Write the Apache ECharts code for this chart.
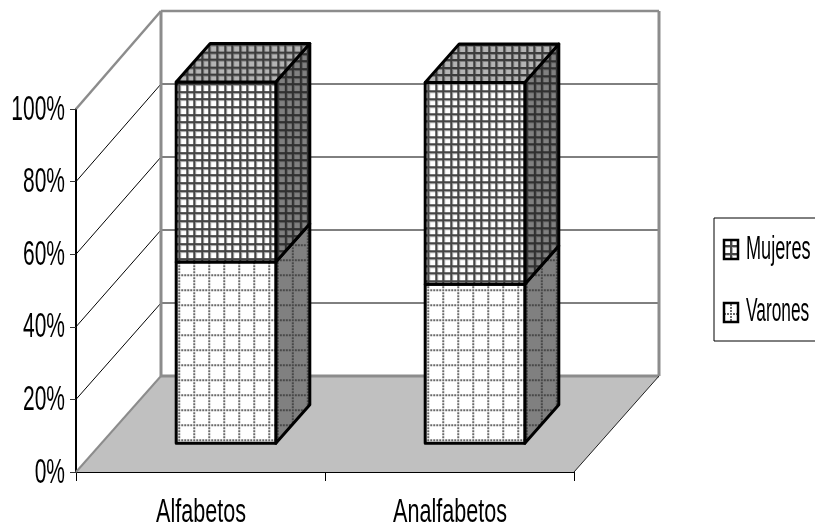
<!DOCTYPE html>
<html>
<head>
<meta charset="utf-8">
<script src="https://cdn.jsdelivr.net/npm/echarts@6/dist/echarts.min.js"></script>
<style>
    html, body { margin: 0; padding: 0; background: #fff; }
    #chart { width: 815px; height: 526px; }
</style>
</head>
<body>
<div id="chart"></div>
<script>
const categories = ['Alfabetos', 'Analfabetos'];
const seriesNames = ['Varones', 'Mujeres'];
const varones = [49.9, 43.8];
const mujeres = [49.6, 55.6];
const yTicks = [0, 20, 40, 60, 80, 100];
const yTickLabels = ['0%', '20%', '40%', '60%', '80%', '100%'];

// how far the back wall sits from the axes, in pixels
const DEPTH_X = 85;
const DEPTH_Y = 96;
// the back wall's scale runs a little taller than the front axis
const BACK_SCALE = 1.0055;
const FONT = '"Liberation Sans", Arial, sans-serif';

// tiled fills, built once
function makeTile(size, draw) {
    const c = document.createElement('canvas');
    c.width = size;
    c.height = size;
    draw(c.getContext('2d'));
    return c;
}

function gridTile(bg, line, soft) {
    return makeTile(38, ctx => {
        ctx.fillStyle = bg;
        ctx.fillRect(0, 0, 38, 38);
        ctx.fillStyle = soft;
        for (let i = 0; i < 5; i++) {
            const p = Math.round(i * 7.6);
            ctx.fillRect(p + 2, 0, 1, 38);
            ctx.fillRect(0, p + 2, 38, 1);
        }
        ctx.fillStyle = line;
        for (let i = 0; i < 5; i++) {
            const p = Math.round(i * 7.6);
            ctx.fillRect(p, 0, 2, 38);
            ctx.fillRect(0, p, 38, 2);
        }
    });
}

function dotTile(bg, dot) {
    return makeTile(75, ctx => {
        ctx.fillStyle = bg;
        ctx.fillRect(0, 0, 75, 75);
        ctx.fillStyle = dot;
        for (let i = 0; i < 5; i++) {
            const p = i * 15;
            for (let k = 0; k < 75; k += 3) {
                ctx.fillRect(p, k, 2, 2);
                ctx.fillRect(k, p, 2, 2);
            }
        }
    });
}

const tiles = {
    Mujeres: {
        front: gridTile('#ffffff', '#454545', '#b4b4b4'),
        side: gridTile('#808080', '#303030', '#606060'),
        top: gridTile('#b4b4b4', '#3c3c3c', '#808080')
    },
    Varones: {
        front: dotTile('#ffffff', '#6a6a6a'),
        side: dotTile('#808080', '#484848')
    }
};

function poly(points, fill, stroke, lineWidth) {
    return {
        type: 'polygon',
        shape: { points },
        style: { fill, stroke: stroke || 'none', lineWidth: lineWidth || 0, lineJoin: 'round' }
    };
}

function line(x1, y1, x2, y2, stroke, lineWidth) {
    return {
        type: 'line',
        shape: { x1, y1, x2, y2 },
        style: { stroke, lineWidth }
    };
}

// narrow text: the reference labels are squeezed horizontally
function label(text, x, y, size, scaleX, align) {
    return {
        type: 'text',
        x,
        y,
        scaleX,
        style: {
            text,
            x: 0,
            y: 0,
            fill: '#000',
            font: `${size}px ${FONT}`,
            align,
            verticalAlign: 'middle'
        }
    };
}

function renderWalls(params, api) {
    const grid = params.coordSys;
    const left = grid.x;
    const right = grid.x + grid.width;
    const y0 = api.coord([0, 0])[1];
    const backY = t => y0 - DEPTH_Y - (y0 - api.coord([0, t])[1]) * BACK_SCALE;
    const grey = '#8c8c8c';
    const children = [
        poly([[left, y0], [left + DEPTH_X, y0 - DEPTH_Y], [right + DEPTH_X, y0 - DEPTH_Y], [right, y0]], '#c0c0c0')
    ];

    yTicks.forEach((t, i) => {
        const y = api.coord([0, t])[1];
        const last = i === yTicks.length - 1;
        if (i > 0) {
            children.push(line(left, y, left + DEPTH_X, backY(t), last ? grey : '#000', last ? 2.5 : 1));
            children.push(line(left + DEPTH_X, backY(t), right + DEPTH_X, backY(t), last ? grey : '#000', last ? 2.5 : 1));
        }
    });

    children.push(line(left + DEPTH_X, backY(100), left + DEPTH_X, y0 - DEPTH_Y, grey, 3));
    children.push(line(right + DEPTH_X, backY(100), right + DEPTH_X, y0 - DEPTH_Y, grey, 3));
    children.push(line(left + DEPTH_X, y0 - DEPTH_Y, right + DEPTH_X, y0 - DEPTH_Y, grey, 3));
    children.push(line(left, y0, left + DEPTH_X, y0 - DEPTH_Y, grey, 2));
    children.push(line(right, y0, right + DEPTH_X, y0 - DEPTH_Y, '#222', 1));

    return { type: 'group', children };
}

function renderLabels(params, api) {
    const children = [];
    yTicks.forEach((t, i) => {
        const p = api.coord([0, t]);
        children.push(label(yTickLabels[i], params.coordSys.x - 11, p[1] + 1, 35, 0.6, 'right'));
    });
    categories.forEach((c, i) => {
        const p = api.coord([i, 0]);
        children.push(label(c, p[0] + 0.5, p[1] + 41, 34, 0.635, 'center'));
    });
    return { type: 'group', children };
}

function renderBox(name, from, to) {
    return function (params, api) {
        const i = params.dataIndex;
        const band = api.size([1, 0])[0];
        const width = band * 0.4;
        const c = api.coord([i, 0])[0];
        const yLow = api.coord([i, from[i]])[1];
        const yHigh = api.coord([i, to[i]])[1];

        const fx = c - width / 2 + DEPTH_X * 0.3;
        const fr = fx + width;
        const dx = DEPTH_X * 0.4;
        const dy = DEPTH_Y * 0.4;
        const fb = yLow - DEPTH_Y * 0.3;
        const ft = yHigh - DEPTH_Y * 0.3;
        const t = tiles[name];
        const stroke = '#000';
        const children = [
            poly([[fr, fb], [fr + dx, fb - dy], [fr + dx, ft - dy], [fr, ft]],
                { image: t.side, repeat: 'repeat', x: fr + 1, y: fb - 4 }, stroke, 3),
            poly([[fx, fb], [fr, fb], [fr, ft], [fx, ft]],
                { image: t.front, repeat: 'repeat', x: fx + 2, y: fb - 4 }, stroke, 3)
        ];
        if (t.top) {
            children.push(poly([[fx, ft], [fr, ft], [fr + dx, ft - dy], [fx + dx, ft - dy]],
                { image: t.top, repeat: 'repeat', x: fx + 2, y: ft - dy }, stroke, 3));
        }
        return { type: 'group', children };
    };
}

const varonesEnd = varones;
const mujeresEnd = varones.map((v, i) => v + mujeres[i]);
const zeros = varones.map(() => 0);

const chart = echarts.init(document.getElementById('chart'), null, { renderer: 'canvas' });
chart.setOption({
    animation: false,
    backgroundColor: '#fff',
    grid: { left: 76, right: 241, top: 109, bottom: 54 },
    xAxis: {
        type: 'category',
        data: categories,
        boundaryGap: true,
        axisLine: { lineStyle: { color: '#000', width: 2 } },
        axisTick: { show: true, alignWithLabel: false, length: 9, lineStyle: { color: '#000', width: 1 } },
        axisLabel: { show: false },
        splitLine: { show: false }
    },
    yAxis: {
        type: 'value',
        min: 0,
        max: 100,
        interval: 20,
        axisLine: { show: true, lineStyle: { color: '#000', width: 2 } },
        axisTick: { show: true, length: 6, lineStyle: { color: '#333', width: 1 } },
        axisLabel: { show: false },
        splitLine: { show: false }
    },
    graphic: [
        {
            type: 'group',
            children: [
                { type: 'rect', shape: { x: 714, y: 218, width: 120, height: 123 },
                    style: { fill: '#fff', stroke: '#000', lineWidth: 1 } },
                { type: 'rect', shape: { x: 724, y: 240, width: 14, height: 19 },
                    style: { fill: { image: tiles.Mujeres.front, repeat: 'repeat', x: 730, y: 245 }, stroke: '#000', lineWidth: 2.5 } },
                { type: 'rect', shape: { x: 724, y: 303, width: 14, height: 19 },
                    style: { fill: { image: tiles.Varones.front, repeat: 'repeat', x: 730, y: 313 }, stroke: '#000', lineWidth: 2.5 } },
                label(seriesNames[1], 746, 250, 33, 0.55, 'left'),
                label(seriesNames[0], 746, 312, 33, 0.525, 'left')
            ]
        }
    ],
    series: [
        {
            name: 'walls',
            type: 'custom',
            silent: true,
            z: 1,
            data: [0],
            encode: { x: -1, y: -1 },
            renderItem: renderWalls
        },
        {
            name: seriesNames[0],
            type: 'custom',
            z: 3,
            data: categories.map((c, i) => [i, varones[i]]),
            encode: { x: 0, y: 1 },
            renderItem: renderBox('Varones', zeros, varonesEnd)
        },
        {
            name: seriesNames[1],
            type: 'custom',
            z: 4,
            data: categories.map((c, i) => [i, mujeres[i]]),
            encode: { x: 0, y: 1 },
            renderItem: renderBox('Mujeres', varonesEnd, mujeresEnd)
        },
        {
            name: 'labels',
            type: 'custom',
            silent: true,
            z: 5,
            data: [0],
            encode: { x: -1, y: -1 },
            renderItem: renderLabels
        }
    ]
});
</script>
</body>
</html>
